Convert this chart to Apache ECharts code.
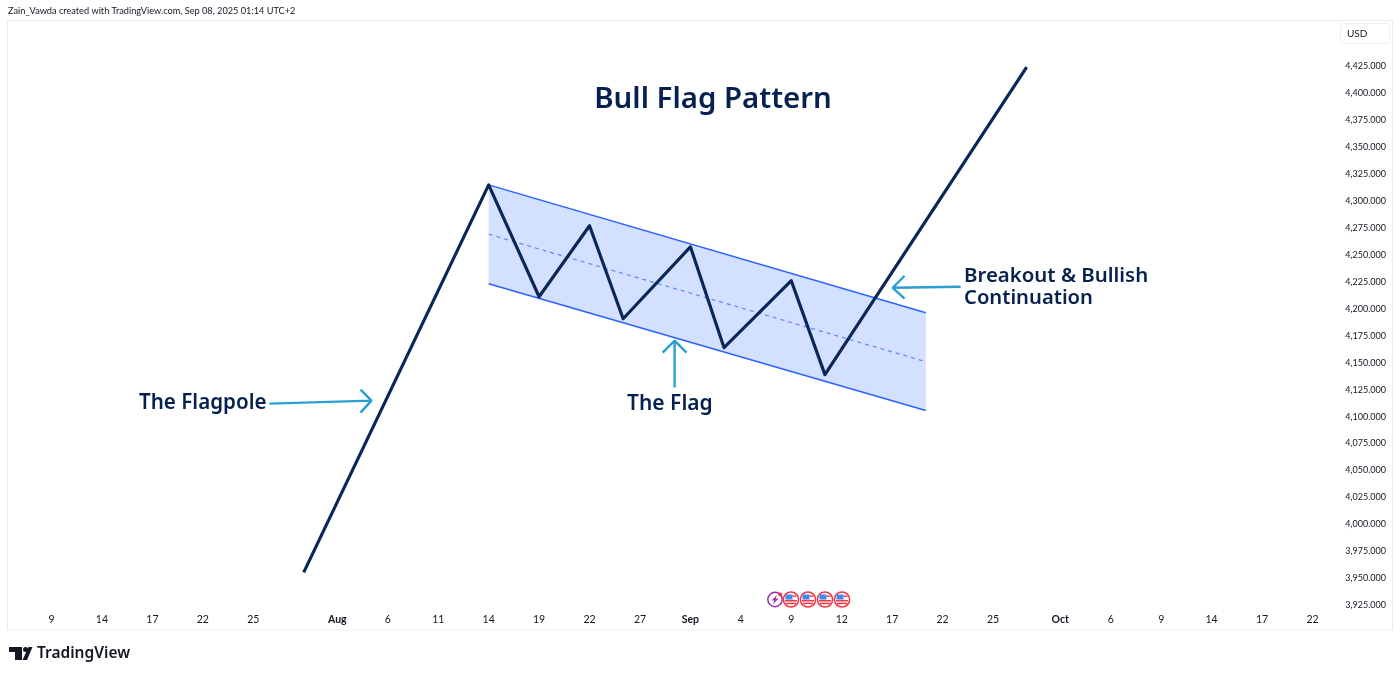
<!DOCTYPE html>
<html>
<head>
<meta charset="utf-8">
<style>
html,body{margin:0;padding:0;background:#fff;}
#main{width:1400px;height:676px;}
</style>
<script src="https://cdn.jsdelivr.net/npm/echarts@6/dist/echarts.min.js"></script>
</head>
<body>
<div id="main"></div>
<script>
// trading days shown on the time scale
var tradingDays = [
  'Jul 7','Jul 8','Jul 9','Jul 10','Jul 11','Jul 14','Jul 15','Jul 16','Jul 17','Jul 18',
  'Jul 21','Jul 22','Jul 23','Jul 24','Jul 25','Jul 28','Jul 29','Jul 30','Jul 31','Aug 1',
  'Aug 4','Aug 5','Aug 6','Aug 7','Aug 8','Aug 11','Aug 12','Aug 13','Aug 14','Aug 15',
  'Aug 18','Aug 19','Aug 20','Aug 21','Aug 22','Aug 25','Aug 26','Aug 27','Aug 28','Aug 29',
  'Sep 1','Sep 2','Sep 3','Sep 4','Sep 5','Sep 8','Sep 9','Sep 10','Sep 11','Sep 12',
  'Sep 15','Sep 16','Sep 17','Sep 18','Sep 19','Sep 22','Sep 23','Sep 24','Sep 25','Sep 26',
  'Sep 29','Sep 30','Oct 1','Oct 2','Oct 3','Oct 6','Oct 7','Oct 8','Oct 9','Oct 10',
  'Oct 13','Oct 14','Oct 15','Oct 16','Oct 17','Oct 20','Oct 21','Oct 22','Oct 23'
];
var tickDays = ['Jul 9','Jul 14','Jul 17','Jul 22','Jul 25','Aug 1','Aug 6','Aug 11','Aug 14','Aug 19','Aug 22','Aug 27','Sep 1','Sep 4','Sep 9','Sep 12','Sep 17','Sep 22','Sep 25','Oct 1','Oct 6','Oct 9','Oct 14','Oct 17','Oct 22'];
var tickText = ['9','14','17','22','25','Aug','6','11','14','19','22','27','Sep','4','9','12','17','22','25','Oct','6','9','14','17','22'];

// price path: flagpole, flag swings, breakout
var pathDays = ['Jul 30','Aug 14','Aug 19','Aug 22','Aug 26','Sep 1','Sep 3','Sep 9','Sep 11','Sep 29'];
var pathPrices = [3955.6,4314.8,4211.1,4276.9,4190.7,4257.4,4163.9,4226,4138.9,4424];

// parallel channel
var channelDays = ['Aug 14','Sep 19'];
var channelUpper = [4314.8,4196.3];
var channelMiddle = [4269,4150.9];
var channelLower = [4223.1,4105.6];

// arrows, x in trading day index, y in price
var poleArrowX = [14.96,21.03,null,20.38,21.03,20.38];
var poleArrowY = [4112,4114.8,null,4125,4114.8,4103.7];
var flagArrowX = [39.06,39.06,null,38.35,39.06,39.77];
var flagArrowY = [4126.9,4170.4,null,4159.3,4170.4,4159.3];
var breakArrowX = [56.07,52.03,null,52.74,52.03,52.74];
var breakArrowY = [4220.4,4219.4,null,4230.6,4219.4,4209.3];

var FONT = '"Noto Sans"';
var SMALL = 'Lato';
var NAVY = '#06214f';
var ARROW = '#2a9fd0';
var BLUE = '#2962ff';

function zip(xs, ys) {
  return xs.map(function (x, i) { return x === null ? [null, null] : [x, ys[i]]; });
}

function arrowSeries(xs, ys) {
  return {
    type: 'line', xAxisIndex: 1, data: zip(xs, ys), showSymbol: false, silent: true,
    connectNulls: false, z: 6,
    lineStyle: { color: ARROW, width: 2.4 }
  };
}

function flagIcon(cx, cy) {
  return {
    type: 'group', x: cx, y: cy, silent: true,
    children: [
      { type: 'circle', shape: { r: 7.6 }, style: { fill: '#fff', stroke: '#f23645', lineWidth: 1.5 } },
      { type: 'rect', shape: { x: -5.5, y: -5, width: 7, height: 5 }, style: { fill: '#3d8bef' } },
      { type: 'rect', shape: { x: 1.5, y: -4, width: 4, height: 1.4 }, style: { fill: '#f23645' } },
      { type: 'rect', shape: { x: -6, y: 0.4, width: 12, height: 1.6 }, style: { fill: '#f23645' } },
      { type: 'rect', shape: { x: -5, y: 3.2, width: 10, height: 1.5 }, style: { fill: '#f23645' } }
    ]
  };
}

var chart = echarts.init(document.getElementById('main'));
chart.setOption({
  animation: false,
  backgroundColor: '#fff',
  grid: { left: 17.9, right: 70.7, top: 66, bottom: 70.6 },
  xAxis: [{
    type: 'category', data: tradingDays, boundaryGap: false,
    axisLine: { show: false }, axisTick: { show: false }, splitLine: { show: false },
    axisLabel: {
      margin: 9, fontFamily: SMALL, fontSize: 10.5, color: '#131722',
      interval: function (i, name) { return tickDays.indexOf(name) >= 0; },
      formatter: function (name) {
        var t = tickText[tickDays.indexOf(name)];
        return /[A-Z]/.test(t) ? '{m|' + t + '}' : t;
      },
      rich: { m: { fontFamily: SMALL, fontSize: 10.5, fontWeight: 700, color: '#131722' } }
    }
  }, {
    type: 'value', min: 0, max: tradingDays.length - 1, show: false
  }],
  yAxis: {
    type: 'value', position: 'right', min: 3925, max: 4425, interval: 25,
    axisLine: { show: false }, axisTick: { show: false }, splitLine: { show: false },
    axisLabel: {
      margin: 16, fontFamily: SMALL, fontSize: 9, color: '#131722',
      formatter: function (v) { return v.toLocaleString('en-US') + '.000'; }
    }
  },
  series: [
    {
      // channel background
      type: 'custom', silent: true, z: 1,
      data: channelDays.map(function (d, i) { return [tradingDays.indexOf(d), channelUpper[i], channelLower[i]]; }),
      renderItem: function (params, api) {
        if (params.dataIndex !== 0) return;
        var a = api.coord([api.value(0, 0), api.value(1, 0)]);
        var b = api.coord([api.value(0, 1), api.value(1, 1)]);
        var c = api.coord([api.value(0, 1), api.value(2, 1)]);
        var d = api.coord([api.value(0, 0), api.value(2, 0)]);
        return { type: 'polygon', shape: { points: [a, b, c, d] }, style: { fill: 'rgba(41,98,255,0.2)' } };
      }
    },
    { type: 'line', data: zip(channelDays, channelUpper), showSymbol: false, silent: true, z: 2, lineStyle: { color: BLUE, width: 1.5 } },
    { type: 'line', data: zip(channelDays, channelLower), showSymbol: false, silent: true, z: 2, lineStyle: { color: BLUE, width: 1.5 } },
    { type: 'line', data: zip(channelDays, channelMiddle), showSymbol: false, silent: true, z: 2, lineStyle: { color: '#5a86ff', width: 1.2, type: [4, 4] } },
    { type: 'line', data: zip(pathDays, pathPrices), showSymbol: false, silent: true, z: 5, lineStyle: { color: '#0a2758', width: 3.2, join: 'round' } },
    arrowSeries(poleArrowX, poleArrowY),
    arrowSeries(flagArrowX, flagArrowY),
    arrowSeries(breakArrowX, breakArrowY)
  ],
  graphic: [
    // frame and USD box
    { type: 'rect', z: -1, silent: true, shape: { x: 7.5, y: 20.5, width: 1385, height: 609.5 }, style: { fill: '#fff', stroke: '#e9ebf0', lineWidth: 1 } },
    { type: 'rect', silent: true, shape: { x: 1340.5, y: 23.5, width: 49, height: 20, r: 3 }, style: { fill: '#fff', stroke: '#eceef2', lineWidth: 1 } },
    { type: 'text', silent: true, x: 1347, y: 34, style: { text: 'USD', font: '10px ' + SMALL, fill: '#131722', verticalAlign: 'middle' } },

    // header
    { type: 'text', silent: true, x: 8, y: 11.5, style: { text: 'Zain_Vawda created with TradingView.com, Sep 08, 2025 01:14 UTC+2', font: '9.2px ' + SMALL, fill: '#131722', verticalAlign: 'middle' } },

    // annotations
    { type: 'text', silent: true, x: 713, y: 99.5, style: { text: 'Bull Flag Pattern', font: '600 29.4px ' + FONT, fill: NAVY, align: 'center', verticalAlign: 'middle' } },
    { type: 'text', silent: true, x: 139, y: 403, style: { text: 'The Flagpole', font: '600 20.6px ' + FONT, fill: NAVY, verticalAlign: 'middle' } },
    { type: 'text', silent: true, x: 627, y: 404, style: { text: 'The Flag', font: '600 21px ' + FONT, fill: NAVY, verticalAlign: 'middle' } },
    { type: 'text', silent: true, x: 964, y: 276.5, style: { text: 'Breakout & Bullish', font: '600 20.4px ' + FONT, fill: NAVY, verticalAlign: 'middle' } },
    { type: 'text', silent: true, x: 964, y: 298, style: { text: 'Continuation', font: '600 20.2px ' + FONT, fill: NAVY, verticalAlign: 'middle' } },

    // event icons
    { type: 'group', x: 775, y: 599.5, silent: true, children: [
      { type: 'circle', shape: { r: 7.2 }, style: { fill: '#fff', stroke: '#9c27b0', lineWidth: 1.4 } },
      { type: 'polygon', shape: { points: [[2, -4.5], [-3.5, 1], [-0.5, 1], [-2, 4.8], [3.5, -1], [0.5, -1]] }, style: { fill: '#9c27b0' } },
      { type: 'circle', shape: { cx: 5.3, cy: -5, r: 2 }, style: { fill: '#f23645' } }
    ] },
    flagIcon(791, 599.5), flagIcon(808, 599.5), flagIcon(825, 599.5), flagIcon(842, 599.5),

    // TradingView logo
    { type: 'polygon', silent: true, shape: { points: [[9, 647], [22, 647], [22, 660], [15, 660], [15, 652], [9, 652]] }, style: { fill: '#131722' } },
    { type: 'circle', silent: true, shape: { cx: 25.5, cy: 649.5, r: 2.5 }, style: { fill: '#131722' } },
    { type: 'polygon', silent: true, shape: { points: [[28.5, 647], [32.5, 647], [27, 660], [22.5, 660]] }, style: { fill: '#131722' } },
    { type: 'text', silent: true, x: 37, y: 653.5, style: { text: 'TradingView', font: '600 15.5px ' + FONT, fill: '#131722', verticalAlign: 'middle' } }
  ]
});
</script>
</body>
</html>
